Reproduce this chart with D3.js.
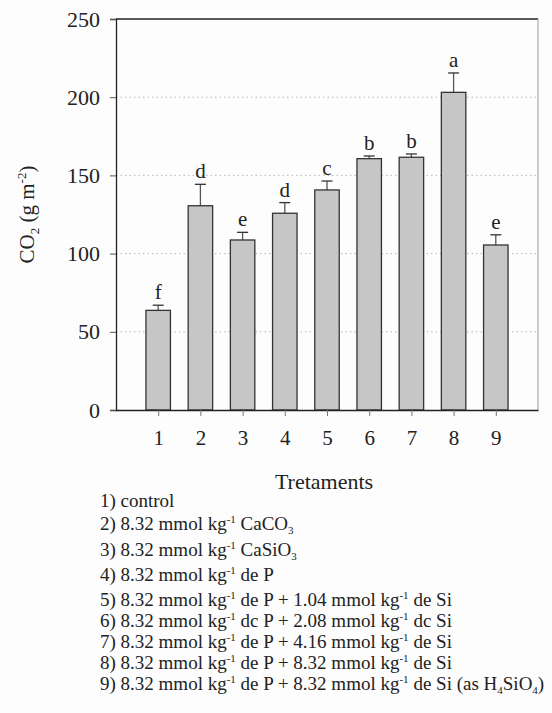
<!DOCTYPE html>
<html>
<meta charset="utf-8">
<head>
	<title>CO2 treatments</title>
	<script src="https://cdn.jsdelivr.net/npm/d3@7/dist/d3.min.js" charset="utf-8"></script>
	<style>
		body { margin: 0; background: #fdfdfd; }
	</style>
</head>
<body>
	<script type="text/javascript">
		// data
		var treatments = [1, 2, 3, 4, 5, 6, 7, 8, 9];
		var co2 = [63.7, 130.6, 108.7, 125.8, 140.7, 160.7, 161.6, 203.1, 105.5];
		var se = [3.3, 13.7, 4.9, 6.8, 5.7, 1.7, 2.1, 12.4, 6.5];
		var letters = ['f', 'd', 'e', 'd', 'c', 'b', 'b', 'a', 'e'];
		var yTicks = [0, 50, 100, 150, 200, 250];

		// legend lines: [text, kind]  kind: n normal, p superscript, b subscript
		var kg = [['8.32 mmol kg', 'n'], ['-1', 'p']];
		var legend = [
			[['1) control', 'n']],
			[['2) ', 'n']].concat(kg, [[' CaCO', 'n'], ['3', 'b']]),
			[['3) ', 'n']].concat(kg, [[' CaSiO', 'n'], ['3', 'b']]),
			[['4) ', 'n']].concat(kg, [[' de P', 'n']]),
			[['5) ', 'n']].concat(kg, [[' de P + 1.04 mmol kg', 'n'], ['-1', 'p'], [' de Si', 'n']]),
			[['6) ', 'n']].concat(kg, [[' dc P + 2.08 mmol kg', 'n'], ['-1', 'p'], [' dc Si', 'n']]),
			[['7) ', 'n']].concat(kg, [[' de P + 4.16 mmol kg', 'n'], ['-1', 'p'], [' de Si', 'n']]),
			[['8) ', 'n']].concat(kg, [[' de P + 8.32 mmol kg', 'n'], ['-1', 'p'], [' de Si', 'n']]),
			[['9) ', 'n']].concat(kg, [[' de P + 8.32 mmol kg', 'n'], ['-1', 'p'], [' de Si (as H', 'n'], ['4', 'b'], ['SiO', 'n'], ['4', 'b'], [')', 'n']])
		];
		var legendY = [507, 530, 556, 581, 606, 627, 648, 669, 690];

		var serif = "'Liberation Serif', 'Times New Roman', Times, serif";

		var margin = {top: 19, right: 14, bottom: 303, left: 116},
			width = 552 - margin.left - margin.right,
			height = 713 - margin.top - margin.bottom;

		var svg = d3.select('body').append('svg')
			.attr('width', 552)
			.attr('height', 713)
			.style('font-family', serif);
		var g = svg.append('g')
			.attr('transform', 'translate(' + margin.left + ',' + margin.top + ')');

		var x = d3.scaleLinear().domain([0, 10]).range([0, width]);
		var y = d3.scaleLinear().domain([0, 250]).range([height, 0]);
		var barW = x(0.58) - x(0);

		// dotted grid
		g.selectAll('.grid').data(yTicks.filter(function(d) { return d > 0 && d < 250; }))
			.enter().append('line')
			.attr('x1', 0).attr('x2', width)
			.attr('y1', function(d) { return y(d); })
			.attr('y2', function(d) { return y(d); })
			.attr('stroke', '#b8b8b8')
			.attr('stroke-width', 1)
			.attr('stroke-dasharray', '1.5,3');

		// frame (top and right)
		g.append('line').attr('x1', 0).attr('x2', width).attr('y1', 0).attr('y2', 0)
			.attr('stroke', '#222').attr('stroke-width', 1.3);
		g.append('line').attr('x1', width).attr('x2', width).attr('y1', 0).attr('y2', height)
			.attr('stroke', '#999').attr('stroke-width', 1);

		// error bars
		var err = g.selectAll('.err').data(treatments).enter().append('g');
		err.append('line')
			.attr('x1', function(d) { return x(d); })
			.attr('x2', function(d) { return x(d); })
			.attr('y1', function(d, i) { return y(co2[i]); })
			.attr('y2', function(d, i) { return y(co2[i] + se[i]); })
			.attr('stroke', '#555').attr('stroke-width', 1.3);
		err.append('line')
			.attr('x1', function(d) { return x(d) - 5.5; })
			.attr('x2', function(d) { return x(d) + 5.5; })
			.attr('y1', function(d, i) { return y(co2[i] + se[i]); })
			.attr('y2', function(d, i) { return y(co2[i] + se[i]); })
			.attr('stroke', '#333').attr('stroke-width', 1.3);

		// bars
		g.selectAll('.bar').data(treatments).enter().append('rect')
			.attr('x', function(d) { return x(d) - barW / 2; })
			.attr('width', barW)
			.attr('y', function(d, i) { return y(co2[i]); })
			.attr('height', function(d, i) { return height - y(co2[i]); })
			.attr('fill', '#c6c6c6')
			.attr('stroke', '#333')
			.attr('stroke-width', 1.3);

		// letters
		g.selectAll('.let').data(treatments).enter().append('text')
			.attr('x', function(d) { return x(d); })
			.attr('y', function(d, i) { return y(co2[i] + se[i]) - 6; })
			.attr('text-anchor', 'middle')
			.attr('fill', '#222')
			.style('font-family', serif)
			.style('font-size', '21px')
			.text(function(d, i) { return letters[i]; });

		// axes
		var yAxis = g.append('g')
			.call(d3.axisLeft(y).tickValues(yTicks).tickSize(6).tickPadding(10));
		yAxis.attr('font-family', null);
		yAxis.selectAll('text').style('font-family', serif).style('font-size', '22px').attr('fill', '#222');
		yAxis.select('.domain').attr('stroke', '#222').attr('stroke-width', 1.3);
		yAxis.selectAll('.tick line').attr('stroke', '#555');

		var xAxis = g.append('g')
			.attr('transform', 'translate(0,' + height + ')')
			.call(d3.axisBottom(x).tickValues(treatments).tickSize(6).tickSizeOuter(0).tickPadding(14));
		xAxis.attr('font-family', null);
		xAxis.selectAll('text').style('font-family', serif).style('font-size', '21px').attr('fill', '#222');
		xAxis.select('.domain').attr('stroke', '#222').attr('stroke-width', 1.3);
		xAxis.selectAll('.tick line').attr('stroke', '#777');

		// axis titles
		g.append('text')
			.attr('x', width / 2 - 3)
			.attr('y', height + 79)
			.attr('text-anchor', 'middle')
			.attr('fill', '#222')
			.style('font-family', serif)
			.style('font-size', '22px')
			.text('Tretaments');

		var yl = svg.append('text')
			.attr('transform', 'translate(34,' + (margin.top + height / 2) + ') rotate(-90)')
			.attr('text-anchor', 'middle')
			.attr('fill', '#222')
			.style('font-family', serif)
			.style('font-size', '21px');
		yl.append('tspan').text('CO');
		yl.append('tspan').attr('dy', 5).style('font-size', '13px').text('2');
		yl.append('tspan').attr('dy', -5).text(' (g m');
		yl.append('tspan').attr('dy', -8).style('font-size', '13px').text('-2');
		yl.append('tspan').attr('dy', 8).text(')');

		// treatment legend
		var lg = svg.append('g');
		legend.forEach(function(parts, i) {
			var t = lg.append('text')
				.attr('x', 100)
				.attr('y', legendY[i])
				.attr('fill', '#222')
				.style('font-family', serif)
				.style('font-size', '19px');
			var shift = 0;
			parts.forEach(function(p) {
				var target = p[1] === 'p' ? -7 : (p[1] === 'b' ? 4 : 0);
				var s = t.append('tspan').attr('dy', target - shift).text(p[0]);
				if (p[1] !== 'n') s.style('font-size', '11px');
				shift = target;
			});
		});
	</script>
</body>
</html>
